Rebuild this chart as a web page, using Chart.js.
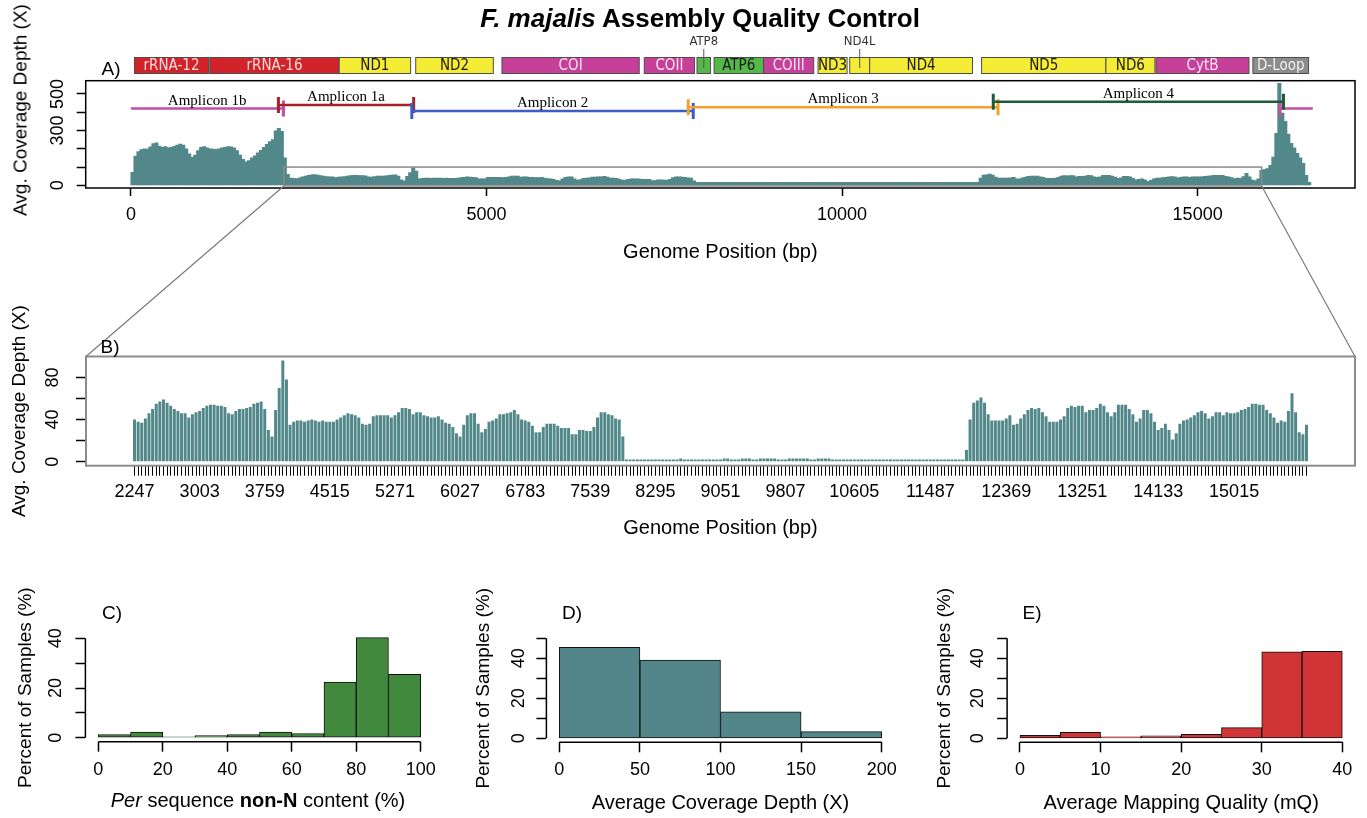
<!DOCTYPE html>
<html>
<head>
<meta charset="utf-8">
<title>F. majalis Assembly Quality Control</title>
<script src="https://cdn.jsdelivr.net/npm/chart.js@4.4.1/dist/chart.umd.min.js"></script>
<style>
  body { margin: 0; background: #fff; }
  #fig { position: relative; width: 1367px; height: 818px; font-family: 'Liberation Sans', Arial, Helvetica, sans-serif; color: #000; }
  #fig canvas { position: absolute; left: 0; top: 0; }
  .txt { position: absolute; white-space: nowrap; line-height: 1; transform: translate(-50%, -50%); }
</style>
</head>
<body>
<div id="fig">
  <canvas id="chartA" width="1367" height="818"></canvas>
  <canvas id="chartB" width="1367" height="818"></canvas>
  <canvas id="chartC" width="1367" height="818"></canvas>
  <canvas id="chartD" width="1367" height="818"></canvas>
  <canvas id="chartE" width="1367" height="818"></canvas>

  <div class="txt" style="left:700px; top:18px; font-size:26px; font-weight:bold;"><i>F. majalis</i> Assembly Quality Control</div>
  <div class="txt" style="left:111px; top:68px; font-size:19px;">A)</div>
  <div class="txt" style="left:110px; top:346px; font-size:19px;">B)</div>
  <div class="txt" style="left:112px; top:612px; font-size:19px;">C)</div>
  <div class="txt" style="left:572px; top:612px; font-size:19px;">D)</div>
  <div class="txt" style="left:1032px; top:612px; font-size:19px;">E)</div>
  <div class="txt" style="left:20px; top:110px; font-size:19px; transform: translate(-50%, -50%) rotate(-90deg);">Avg. Coverage Depth (X)</div>
  <div class="txt" style="left:258px; top:800px; font-size:20px;"><i>Per</i> sequence <b>non-N</b> content (%)</div>
</div>

<script>
// ---- datos ----
// profundidad media por ventana de 42 pb (centro de la ventana k = 21 + 42*k)
const BIN_BP = 42;
const GENOME_BP = 16620;

// ventanas 0..52 (antes de la region ampliada)
const depthStart = [
  71, 160, 185, 195, 200, 198, 210, 228, 233, 215,
  208, 212, 205, 208, 214, 220, 226, 220, 200, 172,
  153, 165, 190, 208, 212, 205, 200, 198, 195, 200,
  205, 208, 212, 211, 205, 190, 165, 142, 129, 135,
  150, 162, 178, 192, 208, 225, 240, 250, 298, 312,
  295, 150, 60
];

// ventanas 53..377 (panel B, 2247 - 15855 pb)
const depthZoom = [
  40, 38, 37, 41, 46, 50, 55, 57, 59, 56,
  53, 50, 48, 46, 46, 42, 45, 47, 48, 51,
  53, 54, 54, 53, 53, 52, 46, 45, 48, 50,
  50, 51, 52, 55, 56, 57, 50, 30, 24, 49,
  70, 96, 78, 35, 38, 39, 39, 38, 39, 40,
  39, 38, 39, 38, 38, 38, 40, 42, 44, 46,
  45, 44, 42, 36, 35, 36, 43, 44, 44, 44,
  44, 42, 44, 47, 51, 51, 50, 45, 47, 47,
  44, 43, 42, 42, 43, 40, 37, 36, 33, 27,
  24, 35, 44, 46, 46, 36, 28, 31, 38, 39,
  41, 45, 45, 46, 47, 49, 45, 40, 39, 38,
  34, 28, 28, 33, 36, 36, 36, 34, 32, 32,
  32, 26, 26, 30, 30, 29, 29, 33, 42, 47,
  47, 45, 44, 41, 40, 24,
  2, 2, 2, 2, 2, 2, 2, 2, 2, 2,
  2, 2, 2, 2, 2, 3, 2, 2, 2, 2,
  2, 2, 2, 2, 2, 2, 2, 3, 3, 2,
  2, 2, 3, 3, 3, 2, 2, 3, 3, 3,
  3, 3, 2, 2, 2, 3, 3, 3, 3, 3,
  3, 2, 2, 3, 3, 3, 3, 2, 2, 2,
  2, 2, 2, 2, 2, 2, 2, 2, 2, 2,
  2, 2, 2, 2, 2, 2, 2, 2, 2, 2,
  2, 2, 2, 2, 2, 2, 2, 2, 2, 2,
  2, 2, 2, 2,
  11, 40, 56, 58, 61, 56, 45, 39, 39, 39,
  39, 41, 44, 35, 36, 41, 45, 49, 51, 50,
  51, 47, 43, 38, 38, 38, 40, 43, 51, 53,
  52, 53, 53, 47, 49, 49, 51, 55, 53, 47,
  43, 47, 54, 54, 54, 50, 45, 38, 41, 49,
  49, 46, 38, 30, 32, 36, 30, 21, 27, 36,
  39, 40, 42, 44, 47, 48, 46, 41, 43, 47,
  47, 44, 47, 46, 46, 47, 49, 50, 52, 55,
  55, 54, 54, 49, 46, 42, 37, 39, 38, 48,
  65, 47, 28, 26, 35
];
const ZOOM_FIRST_BIN = 53;

// ventanas 378..394 (D-Loop)
const depthEnd = [82, 86, 92, 110, 155, 285, 558, 395, 350, 280, 230, 205, 175, 150, 120, 55, 12];

const genomeTicks = [0, 5000, 10000, 15000];
const depthTicksA = [0, 100, 200, 300, 400, 500];
const depthLabelsA = [0, 300, 500];
const depthTicksB = [0, 20, 40, 60, 80];
const depthLabelsB = [0, 40, 80];
const zoomLabels = [2247, 3003, 3759, 4515, 5271, 6027, 6783, 7539, 8295, 9051, 9807, 10605, 11487, 12369, 13251, 14133, 15015];
const ZOOM_FROM = 2150;
const ZOOM_TO = 15900;

// mapa de genes (pb)
const geneNames = ['rRNA-12', 'rRNA-16', 'ND1', 'ND2', 'COI', 'COII', 'ATP8', 'ATP6', 'COIII', 'ND3', 'ND4L', 'ND4', 'ND5', 'ND6', 'CytB', 'D-Loop'];
const geneStart = [49, 1108, 2928, 4004, 5217, 7218, 7960, 8200, 8895, 9662, 10107, 10388, 11962, 13710, 14414, 15777];
const geneEnd = [1091, 2928, 3932, 5095, 7147, 7925, 8150, 8895, 9601, 10070, 10388, 11834, 13710, 14399, 15722, 16560];
const geneType = ['rRNA', 'rRNA', 'ND', 'ND', 'CO', 'CO', 'ATP', 'ATP', 'CO', 'ND', 'ND', 'ND', 'ND', 'ND', 'CO', 'DLoop'];

// amplicones (pb); el 1b cruza el origen
const ampNames = ['Amplicon 1b', 'Amplicon 1a', 'Amplicon 2', 'Amplicon 3', 'Amplicon 4'];
const ampStart = [16158, 2073, 3949, 7836, 12126];
const ampEnd = [2144, 3975, 7907, 12193, 16207];

// histogramas (% de muestras)
const nonNBins = [0, 10, 20, 30, 40, 50, 60, 70, 80, 90];
const nonNPct = [1.3, 2.3, 0.4, 0.9, 1.3, 2.3, 1.7, 22.4, 40.3, 25.5];
const coverBins = [0, 50, 100, 150];
const coverPct = [45.5, 39.1, 13.2, 3.3];
const mapqBins = [0, 5, 10, 15, 20, 25, 30, 35];
const mapqPct = [1.5, 3.0, 0.7, 1.2, 2.0, 5.3, 43.2, 43.5];

// ---- estilos ----
const W = 1367, H = 818;
const TEAL = '#52888a';
const geneColors = {
  rRNA: ['#d2232a', '#f8dada'],
  ND: ['#f5ec35', '#1a1a1a'],
  CO: ['#c6409a', '#fbe6f2'],
  ATP: ['#56b848', '#1a1a1a'],
  DLoop: ['#8c8c8c', '#f2f2f2']
};
const ampColors = ['#c24fa3', '#a3222c', '#3d5ec6', '#f4a02c', '#1f5a3b'];
const ampLevel = [420, 440, 407, 427, 458]; // altura (en X) donde se dibuja cada amplicon

Chart.defaults.font.family = "'Liberation Sans', Arial, Helvetica, sans-serif";
Chart.defaults.color = '#000';

const binCenter = k => 21 + BIN_BP * k;
const depthAll = depthStart.concat(depthZoom, depthEnd);

function layoutFor(box, yw, xh) {
  return { padding: { left: box[0] - yw, top: box[1], right: W - box[2], bottom: H - box[3] - xh } };
}

function axisX(o) {
  return {
    type: 'linear', min: o.min, max: o.max, offset: false, bounds: 'data',
    grid: { display: true, drawOnChartArea: false, drawTicks: true, tickLength: o.tl, tickColor: '#000', tickWidth: o.tw || 1.5, offset: false },
    border: { display: false },
    ticks: {
      autoSkip: false, maxRotation: 0, minRotation: 0, padding: o.pad, font: { size: 18 },
      callback: v => (o.labels || o.ticks).includes(v) ? String(v) : ''
    },
    afterBuildTicks: s => { s.ticks = o.ticks.map(v => ({ value: v })); },
    afterFit: s => { s.height = o.h; },
    title: { display: !!o.title, text: o.title, font: { size: 20 }, padding: { top: 0, bottom: 0 } }
  };
}

function axisY(o) {
  return {
    type: 'linear', min: o.min, max: o.max, bounds: 'data',
    grid: { display: true, drawOnChartArea: false, drawTicks: true, tickLength: o.tl, tickColor: '#000', tickWidth: 1.5 },
    border: { display: false },
    ticks: {
      autoSkip: false, minRotation: 90, maxRotation: 90, crossAlign: 'center', padding: o.pad, font: { size: 18 },
      callback: v => o.labels.includes(v) ? String(v) : ''
    },
    afterBuildTicks: s => { s.ticks = o.ticks.map(v => ({ value: v })); },
    afterFit: s => { s.width = o.w; },
    title: { display: !!o.title, text: o.title, font: { size: 19 }, padding: { top: o.tpad || 0, bottom: 0 } }
  };
}

const baseOptions = {
  responsive: false, animation: false, devicePixelRatio: 1, events: []
};

// marco completo del area de trazado (paneles A y B)
const frameBox = {
  id: 'frameBox',
  afterDatasetsDraw(chart, args, opts) {
    const { ctx, chartArea: ca } = chart;
    ctx.save();
    ctx.strokeStyle = opts.color;
    ctx.lineWidth = opts.width;
    ctx.strokeRect(ca.left, ca.top, ca.right - ca.left, ca.bottom - ca.top);
    ctx.restore();
  }
};

// ejes al estilo R: solo entre el primer y el ultimo tick
const axisLines = {
  id: 'axisLines',
  afterDraw(chart) {
    const { ctx, chartArea: ca, scales: { x, y } } = chart;
    const xt = x.ticks, yt = y.ticks;
    ctx.save();
    ctx.strokeStyle = '#000';
    ctx.lineWidth = 1.5;
    ctx.beginPath();
    ctx.moveTo(x.getPixelForValue(xt[0].value), ca.bottom);
    ctx.lineTo(x.getPixelForValue(xt[xt.length - 1].value), ca.bottom);
    ctx.moveTo(ca.left, y.getPixelForValue(yt[0].value));
    ctx.lineTo(ca.left, y.getPixelForValue(yt[yt.length - 1].value));
    ctx.stroke();
    ctx.restore();
  }
};

const B_MIN = -3.84, B_MAX = 99.84;

// genes, amplicones y recuadro de la region ampliada (panel A)
const genomeMap = {
  id: 'genomeMap',
  afterDatasetsDraw(chart) {
    const { ctx, scales: { x, y } } = chart;
    const px = v => x.getPixelForValue(v);
    ctx.save();

    // recuadro de la region del panel B
    ctx.strokeStyle = '#8a8a8a';
    ctx.lineWidth = 1.5;
    ctx.strokeRect(px(ZOOM_FROM), y.getPixelForValue(B_MAX), px(ZOOM_TO) - px(ZOOM_FROM), y.getPixelForValue(B_MIN) - y.getPixelForValue(B_MAX));

    // genes
    const gTop = 57.5, gH = 16;
    ctx.textAlign = 'center';
    ctx.textBaseline = 'middle';
    geneNames.forEach((name, i) => {
      const x0 = px(geneStart[i]), x1 = px(geneEnd[i]);
      const [fill, ink] = geneColors[geneType[i]];
      ctx.fillStyle = fill;
      ctx.fillRect(x0, gTop, x1 - x0, gH);
      ctx.strokeStyle = '#4d4d4d';
      ctx.lineWidth = 1;
      ctx.strokeRect(x0, gTop, x1 - x0, gH);
      const cx = (x0 + x1) / 2;
      if (x1 - x0 > 26) {
        ctx.font = "15px 'Liberation Sans Narrow', 'DejaVu Sans Condensed', 'Liberation Sans', sans-serif";
        ctx.fillStyle = ink;
        ctx.fillText(name, cx, gTop + gH / 2 + 1);
      } else {
        ctx.font = "13px 'Liberation Sans Narrow', 'DejaVu Sans Condensed', 'Liberation Sans', sans-serif";
        ctx.fillStyle = '#333';
        ctx.fillText(name, cx, 42);
        ctx.strokeStyle = '#555';
        ctx.beginPath();
        ctx.moveTo(cx, 49);
        ctx.lineTo(cx, 68);
        ctx.stroke();
      }
    });

    // amplicones
    ampNames.forEach((name, i) => {
      const yy = y.getPixelForValue(ampLevel[i]);
      const s = ampStart[i], e = ampEnd[i];
      const segs = s < e ? [[s, e]] : [[s, GENOME_BP], [0, e]];
      ctx.strokeStyle = ampColors[i];
      ctx.lineWidth = 2.5;
      ctx.beginPath();
      segs.forEach(([a, b]) => { ctx.moveTo(px(a), yy); ctx.lineTo(px(b), yy); });
      ctx.stroke();
      ctx.lineWidth = 3;
      ctx.beginPath();
      [s, e].forEach(v => { ctx.moveTo(px(v), yy - 8); ctx.lineTo(px(v), yy + 8); });
      ctx.stroke();
      const [a, b] = segs[segs.length - 1];
      ctx.font = "15px 'Liberation Serif', 'Times New Roman', serif";
      ctx.fillStyle = '#000';
      ctx.textBaseline = 'middle';
      ctx.fillText(name, (px(a) + px(b)) / 2, yy - 8);
    });
    ctx.restore();
  }
};

// ---- Panel A ----
const boxA = [85.7, 80.7, 1355, 188];
const chartA = new Chart(document.getElementById('chartA'), {
  type: 'bar',
  data: {
    datasets: [{
      data: depthAll.map((v, k) => ({ x: binCenter(k), y: v })),
      backgroundColor: TEAL, borderWidth: 0, barThickness: 3.4, minBarLength: 3
    }]
  },
  options: Object.assign({}, baseOptions, {
    layout: layoutFor(boxA, 85.7, 76),
    plugins: { legend: { display: false }, tooltip: { enabled: false }, frameBox: { color: '#000', width: 1.5 } },
    scales: {
      x: axisX({ min: -637, max: 17213, ticks: genomeTicks, tl: 8, pad: 8.6, h: 76, title: 'Genome Position (bp)' }),
      y: axisY({ min: -14.8, max: 572.8, ticks: depthTicksA, labels: depthLabelsA, tl: 9, pad: 4, w: 85.7 })
    }
  }),
  plugins: [frameBox, genomeMap]
});

// lineas que unen el recuadro de A con el panel B
const zoomLinks = {
  id: 'zoomLinks',
  afterDraw(chart) {
    const { ctx, chartArea: ca } = chart;
    const ax = chartA.scales.x, ay = chartA.scales.y;
    const yb = ay.getPixelForValue(B_MIN);
    ctx.save();
    ctx.strokeStyle = '#7a7a7a';
    ctx.lineWidth = 1.2;
    ctx.beginPath();
    ctx.moveTo(ax.getPixelForValue(ZOOM_FROM), yb);
    ctx.lineTo(ca.left, ca.top);
    ctx.moveTo(ax.getPixelForValue(ZOOM_TO), yb);
    ctx.lineTo(ca.right, ca.top);
    ctx.stroke();
    ctx.restore();
  }
};

// ---- Panel B ----
const boxB = [86, 356.5, 1355, 465.7];
const zoomCenters = depthZoom.map((v, i) => binCenter(ZOOM_FIRST_BIN + i));
new Chart(document.getElementById('chartB'), {
  type: 'bar',
  data: {
    datasets: [{
      data: depthZoom.map((v, i) => ({ x: zoomCenters[i], y: v })),
      backgroundColor: TEAL, borderWidth: 0, barPercentage: 0.83, categoryPercentage: 1
    }]
  },
  options: Object.assign({}, baseOptions, {
    layout: layoutFor(boxB, 86, 74.7),
    plugins: { legend: { display: false }, tooltip: { enabled: false }, frameBox: { color: '#8c8c8c', width: 2 } },
    scales: {
      x: axisX({ min: 1683.5, max: 16418.5, ticks: zoomCenters, labels: zoomLabels, tl: 10, tw: 1, pad: 5.5, h: 74.7, title: 'Genome Position (bp)' }),
      y: axisY({ min: B_MIN, max: B_MAX, ticks: depthTicksB, labels: depthLabelsB, tl: 10, pad: 12.7, w: 86, title: 'Avg. Coverage Depth (X)', tpad: 8.6 })
    }
  }),
  plugins: [frameBox, zoomLinks]
});

// ---- Histogramas C, D, E ----
function histogram(id, bins, width, pct, color, box, yw, xh, xo, yo) {
  return new Chart(document.getElementById(id), {
    type: 'bar',
    data: {
      datasets: [{
        data: bins.map((b, i) => ({ x: b + width / 2, y: pct[i] })),
        backgroundColor: color, borderColor: '#111', borderWidth: 1, borderSkipped: false,
        barPercentage: 1, categoryPercentage: 1
      }]
    },
    options: Object.assign({}, baseOptions, {
      layout: layoutFor(box, yw, xh),
      plugins: { legend: { display: false }, tooltip: { enabled: false } },
      scales: { x: axisX(xo), y: axisY(yo) }
    }),
    plugins: [axisLines]
  });
}

histogram('chartC', nonNBins, 10, nonNPct, '#418a3d', [85.4, 633.6, 433.6, 741.7], 85.4, 76.3,
  { min: -4, max: 104, ticks: [0, 20, 40, 60, 80, 100], tl: 10, pad: 7.5, h: 76.3 },
  { min: -1.6, max: 41.9, ticks: [0, 10, 20, 30, 40], labels: [0, 20, 40], tl: 10, pad: 9.3, w: 85.4, title: 'Percent of Samples (%)', tpad: 14.3 });

histogram('chartD', coverBins, 50, coverPct, '#528689', [546.4, 634.3, 894.6, 742.3], 86.4, 73.1,
  { min: -8, max: 208, ticks: [0, 50, 100, 150, 200], tl: 10, pad: 6.9, h: 73.1, title: 'Average Coverage Depth (X)' },
  { min: -2, max: 52, ticks: [0, 10, 20, 30, 40, 50], labels: [0, 20, 40], tl: 10, pad: 7.3, w: 86.4, title: 'Percent of Samples (%)', tpad: 12.6 });

histogram('chartE', mapqBins, 5, mapqPct, '#d13434', [1007.1, 634.3, 1355.2, 742.3], 87.1, 73.1,
  { min: -1.6, max: 41.6, ticks: [0, 10, 20, 30, 40], tl: 10, pad: 6.9, h: 73.1, title: 'Average Mapping Quality (mQ)' },
  { min: -2, max: 52, ticks: [0, 10, 20, 30, 40, 50], labels: [0, 20, 40], tl: 10, pad: 9, w: 87.1, title: 'Percent of Samples (%)', tpad: 13.6 });
</script>
</body>
</html>
